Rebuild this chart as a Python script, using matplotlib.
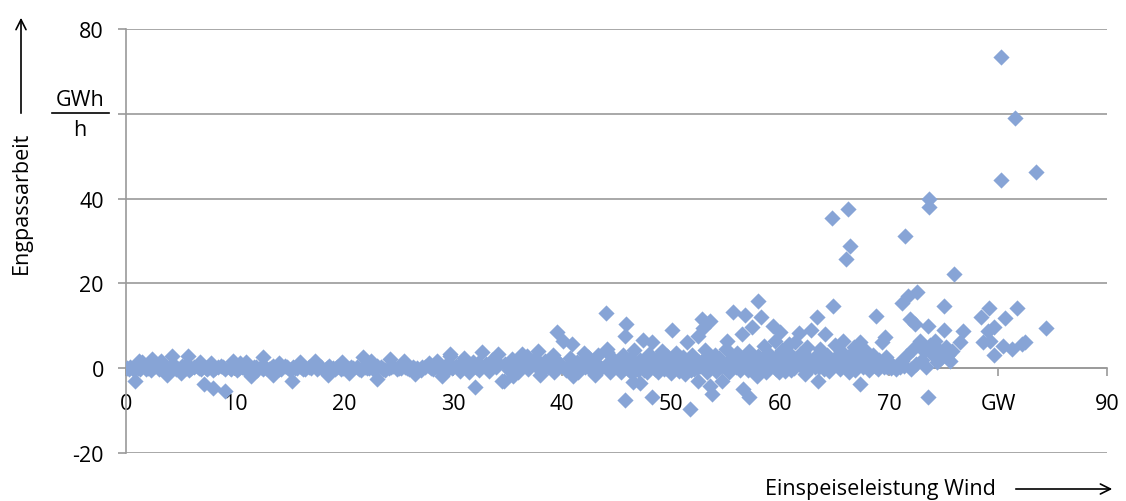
import matplotlib
matplotlib.use("Agg")
import matplotlib.pyplot as plt
from matplotlib.lines import Line2D

plt.rcParams['font.family'] = ['Open Sans', 'DejaVu Sans']

# Einspeiseleistung Wind (GW) vs. Engpassarbeit (GWh/h)
band_low = [
    (0.1, 0.0), (0.4, 0.3), (0.7, -0.4), (1.0, 0.5), (1.3, -0.2), (1.6, 0.8), (2.0, 0.1), (2.3, -0.5),
    (2.7, 0.6), (3.0, -0.1), (3.4, 0.4), (3.7, -0.6), (4.1, 0.2), (4.4, 0.7), (4.8, -0.3), (5.1, 0.5),
    (5.5, 0.0), (5.8, -0.4), (6.2, 0.3), (6.5, 0.6), (6.9, -0.2), (7.3, 0.1), (7.6, 0.4), (8.0, -0.5),
    (8.4, 0.2), (8.7, 0.6), (9.1, -0.3), (9.5, 0.0), (9.8, 0.5), (10.2, -0.4), (10.6, 0.3), (10.9, -0.1),
    (11.3, 0.6), (11.7, 0.2), (12.0, -0.5), (12.4, 0.4), (12.8, 0.0), (13.1, -0.3), (13.5, 0.5), (13.9, 0.1),
    (14.2, -0.2), (14.6, 0.6), (15.0, -0.4), (15.3, 0.3), (15.7, 0.0), (16.1, 0.4), (16.4, -0.3), (16.8, 0.2),
    (17.2, 0.7), (17.5, -0.1), (17.9, 0.3), (18.3, -0.4), (18.6, 0.5), (19.0, 0.0), (19.4, 0.2), (19.7, -0.3),
    (20.1, 0.6), (20.5, -0.2), (20.8, 0.1), (21.2, 0.4), (21.6, -0.5), (21.9, 0.3), (22.3, 0.0), (22.7, -0.2),
    (23.0, 0.5), (23.4, 0.2), (23.8, -0.4), (24.1, 0.1), (24.5, 0.6), (24.9, -0.3), (25.2, 0.0), (25.6, 0.4),
    (26.0, -0.2), (26.3, 0.3), (26.7, 0.1), (27.1, -0.5), (27.4, 0.2), (27.8, 0.5), (28.2, -0.1), (28.5, 0.3),
    (28.9, -0.4), (29.3, 0.6), (29.6, 0.0), (30.0, 0.4),
]
fill_low = [
    (0.3, -0.1), (1.1, 0.1), (1.8, -0.2), (2.5, 0.2), (3.2, 0.0), (3.9, 0.1), (4.6, -0.1), (5.3, 0.2),
    (6.0, 0.0), (6.7, 0.1), (7.4, -0.2), (8.2, 0.0), (8.9, 0.2), (9.6, -0.1), (10.4, 0.1), (11.1, 0.0),
    (11.9, 0.2), (12.6, -0.1), (13.3, 0.1), (14.0, -0.2), (14.8, 0.2), (15.5, 0.0), (16.2, -0.1), (17.0, 0.1),
    (17.7, 0.2), (18.4, 0.0), (19.2, -0.1), (19.9, 0.1), (20.6, 0.2), (21.4, -0.1), (22.1, 0.1), (22.9, 0.0),
    (23.6, -0.2), (24.3, 0.2), (25.0, 0.0), (25.8, 0.1), (26.5, -0.1), (27.2, 0.2), (28.0, 0.0), (28.7, 0.1),
    (29.4, -0.2), (29.9, 0.1),
]
spread_low = [
    (0.8, -3.1), (2.4, 2.1), (4.2, 2.8), (5.7, 2.8), (7.2, -3.8), (8.0, -4.7), (9.1, -5.4), (12.6, 2.6),
    (15.2, -3.1), (1.5, 1.5), (3.2, 1.6), (6.8, 1.4), (10.5, 1.2), (11.5, -1.8), (14.0, 1.3), (17.3, 1.8),
    (18.5, -1.5), (19.8, 1.4), (21.7, 2.6), (23.0, -2.6), (24.2, 2.1), (25.5, 1.6), (26.5, -1.4), (27.8, 1.2),
    (29.7, 3.3), (29.0, -1.8), (13.5, -1.5), (16.0, 1.5), (20.5, -1.2), (22.5, 1.7), (9.8, 1.6), (3.8, -1.5),
    (1.2, 1.8), (5.0, -1.2), (7.8, 1.3), (11.0, 1.5), (28.5, 1.7),
]
band_mid = [
    (30.3, 0.5), (30.6, -0.6), (30.9, 1.2), (31.2, 0.0), (31.5, -0.9), (31.8, 1.5), (32.1, 0.4), (32.4, -0.5),
    (32.7, 3.8), (33.0, 1.0), (33.3, -0.7), (33.6, 2.0), (33.9, 0.3), (34.1, 3.3), (34.5, -3.1), (34.8, 1.1),
    (35.1, -0.4), (35.4, 2.2), (35.7, 0.6), (36.0, -0.8), (36.3, 3.3), (36.6, 1.3), (36.9, -0.3), (37.2, 0.8),
    (37.5, 2.4), (37.8, 4.0), (38.1, -0.6), (38.4, 1.6), (38.7, 0.2), (39.0, 2.0), (39.3, -0.9), (39.5, 8.5),
    (39.8, 1.0), (40.1, 6.4), (40.4, -0.4), (40.7, 2.3), (40.9, 5.7), (41.2, 0.7), (41.5, -0.8), (41.8, 1.8),
    (42.1, 0.3), (42.4, 2.6), (42.7, -0.5), (43.0, 1.4), (43.3, 3.0), (43.6, 0.1), (44.0, 13.0), (44.1, 4.5),
    (44.1, 3.8), (44.4, -0.9), (44.7, 2.2), (45.0, 0.8), (32.0, -4.5), (29.7, 2.8), (34.7, -3.1), (31.0, 2.5),
    (35.5, -1.8), (38.0, -1.5), (41.0, -1.9), (43.0, -1.6), (36.8, 2.8), (39.2, 3.1), (42.0, 3.5),
    (30.5, 0.2), (31.4, 0.6), (32.3, 1.2), (33.2, 0.4), (34.0, 1.5), (35.0, 0.3), (35.9, 1.4), (36.8, 0.5),
    (37.7, 1.0), (38.6, 0.6), (39.6, 1.5), (40.5, 0.3), (41.4, 1.4), (42.3, 0.8), (43.2, 0.2), (44.2, 1.3),
]
band_high = [
    (45.2, 1.5), (45.4, -0.8), (45.6, 3.0), (45.8, 7.5), (45.8, -7.5), (45.9, 10.4), (46.0, 0.2), (46.2, 2.5),
    (46.4, -1.2), (46.5, -3.3), (46.6, 4.2), (46.8, 0.9), (47.0, -0.4), (47.2, -3.5), (47.2, 2.0), (47.4, 6.6),
    (47.6, 1.0), (47.8, -1.0), (48.0, 3.4), (48.3, 6.1), (48.3, -6.7), (48.4, 0.4), (48.6, 2.2), (48.8, -0.9),
    (49.0, 1.5), (49.2, 4.0), (49.4, -0.3), (49.6, 2.8), (49.8, 0.8), (50.0, -1.1), (50.1, 9.0), (50.3, 1.9),
    (50.5, 3.6), (50.7, -0.6), (50.9, 0.5), (51.1, 2.6), (51.3, -1.3), (51.5, 6.1), (51.7, -9.7), (51.7, 1.2),
    (51.9, 3.2), (52.1, -0.2), (52.3, 2.0), (52.5, 7.5), (52.5, -3.1), (52.7, 0.6), (52.8, 11.6), (52.9, 9.4),
    (53.1, 4.4), (53.3, -0.9), (53.5, 1.8), (53.6, 11.1), (53.6, -4.2), (53.8, -6.1), (54.0, 3.0), (54.2, 0.3),
    (54.4, 2.4), (54.7, -3.1), (54.8, 1.0), (55.0, 4.6), (55.1, 6.4), (55.3, -1.0), (55.5, 2.2), (55.7, 13.2),
    (55.9, 0.7), (56.1, 3.5), (56.3, -0.5), (56.5, 8.0), (56.6, -5.0), (56.8, 12.5), (57.0, 1.6), (57.2, -6.8),
    (57.2, 4.0), (57.4, 9.7), (57.6, 0.2), (57.9, -1.9), (58.0, 15.8), (58.0, 2.8), (58.3, 12.0), (58.5, 5.2),
    (58.7, -0.8), (58.9, 3.6), (59.1, 1.2), (59.4, 9.9), (59.5, 6.5), (59.7, 2.0), (59.9, -1.0), (60.0, 8.5),
    (60.2, 4.3), (60.4, 0.6), (60.6, 3.0), (60.8, 5.8), (61.0, -0.4), (61.2, 2.4), (61.4, 6.2), (61.7, 8.3),
    (61.9, 1.5), (62.1, 3.8), (62.3, -1.3), (62.5, 5.0), (62.8, 9.0), (63.0, 2.0), (63.2, 0.3), (63.4, 12.0),
    (63.5, -3.1), (63.7, 4.5), (63.9, 1.2), (64.1, 8.0), (64.3, 3.0), (64.5, -0.6), (64.8, 35.4), (64.9, 14.6),
    (65.0, 5.5), (65.2, 2.2), (65.4, 0.5), (65.6, 4.0), (65.8, 6.5), (66.1, 25.7), (66.2, 37.5), (66.4, 28.8),
    (66.0, 1.8), (66.3, -1.0), (66.6, 3.5), (66.8, 5.0), (67.0, 0.8), (67.3, 6.1), (67.3, -3.8), (67.5, 2.5),
    (67.8, 4.3), (68.0, 1.0), (68.2, -0.5), (68.5, 3.2), (68.8, 12.3), (68.9, 0.4), (69.1, 2.0), (69.4, 6.1),
    (69.6, 7.4), (69.8, 0.2), (70.0, 1.5),
]
fill_high = [
    (45.3, 0.4), (45.7, 1.1), (46.1, -0.2), (46.3, 1.4), (46.7, 0.0), (47.1, 1.6), (47.5, -0.5), (47.9, 0.9),
    (48.1, 1.8), (48.5, -0.2), (48.9, 0.6), (49.1, 2.5), (49.5, 0.1), (49.7, 1.4), (50.2, -0.4), (50.6, 1.2),
    (50.8, 2.4), (51.2, 0.2), (51.4, 1.6), (51.8, -0.5), (52.0, 1.0), (52.4, 0.0), (52.6, 1.5), (53.0, 0.9),
    (53.2, 2.6), (53.4, 0.0), (53.9, 1.3), (54.1, -0.6), (54.3, 1.7), (54.6, 0.5), (55.2, 1.0), (55.4, -0.2),
    (55.8, 1.9), (56.0, 0.3), (56.4, 1.2), (56.7, 2.3), (57.1, -0.4), (57.5, 1.5), (57.8, 0.5), (58.2, -0.3),
    (58.4, 1.4), (58.8, 2.1), (59.0, 0.0), (59.3, 1.6), (59.6, -0.2), (59.8, 3.0), (60.1, 0.9), (60.3, 2.0),
    (60.5, -0.6), (60.9, 1.3), (61.1, 2.8), (61.3, 0.1), (61.6, 1.0), (61.8, 3.3), (62.0, 0.4), (62.2, 1.8),
    (62.4, 0.0), (62.7, 2.2), (62.9, 0.6), (63.1, 1.5), (63.3, 2.8), (63.6, 0.4), (63.8, 2.0), (64.0, -0.2),
    (64.2, 1.4), (64.4, 2.6), (64.7, 0.5), (65.1, 1.0), (65.3, 3.0), (65.5, -0.3), (65.7, 1.6), (65.9, 2.9),
    (66.5, 0.6), (66.7, 2.0), (66.9, -0.4), (67.1, 1.5), (67.4, 3.4), (67.6, 0.3), (67.9, 2.0), (68.1, 0.0),
    (68.4, 1.2), (68.7, 0.6), (69.0, -0.2), (69.3, 1.0), (69.5, 0.4), (69.7, 2.6),
]
band_top = [
    (70.2, 0.0), (70.4, 0.6), (70.6, -0.3), (70.8, 1.0), (71.0, 0.2), (71.2, 1.6), (71.2, 15.3), (71.5, 31.1),
    (71.4, 0.5), (71.6, 2.8), (71.7, 17.0), (71.9, 11.6), (72.0, -0.2), (72.2, 4.5), (72.4, 10.4), (72.6, 17.9),
    (72.5, 1.0), (72.8, 6.5), (73.0, 2.0), (73.2, 4.0), (73.4, 0.4), (73.6, 9.9), (73.6, -6.8), (73.7, 39.9),
    (73.7, 38.0), (73.8, 5.5), (74.0, 3.0), (74.2, 6.5), (74.4, 1.5), (74.6, 4.2), (74.8, 2.5), (75.0, 14.6),
    (75.0, 9.0), (75.2, 5.0), (75.4, 3.0), (75.6, 1.8), (75.8, 4.0), (76.0, 22.2), (76.5, 6.1), (76.8, 8.7),
    (78.4, 12.0), (78.6, 6.1), (79.1, 8.7), (79.2, 14.2), (79.3, 6.4), (79.6, 9.7), (79.6, 3.1), (80.3, 73.3),
    (80.3, 44.3), (80.6, 11.8), (80.5, 5.2), (81.3, 4.5), (81.6, 59.0), (81.7, 14.2), (82.2, 5.7), (82.5, 6.1),
    (83.5, 46.2), (84.4, 9.4),
]

x_ticks = [0, 10, 20, 30, 40, 50, 60, 70, 80, 90]
x_labels = ["0", "10", "20", "30", "40", "50", "60", "70", "GW", "90"]
y_ticks = [-20, 0, 20, 40, 60, 80]
y_labels = ["-20", "0", "20", "40", "", "80"]

W, H = 1126, 502
fig = plt.figure(figsize=(W / 100, H / 100), dpi=100)
ax = fig.add_axes([126 / W, (H - 454) / H, (1107 - 126) / W, (454 - 30) / H])

pts = band_low + fill_low + spread_low + band_mid + band_high + fill_high + band_top
xs = [p[0] for p in pts]
ys = [p[1] for p in pts]
ax.scatter(xs, ys, marker="D", s=68, color="#87A4D6", linewidths=0, zorder=3)

ax.set_xlim(0, 90)
ax.set_ylim(-20, 80)
grey = "#9A9A9A"
fs = 15.5
ax.set_yticks(y_ticks)
ax.set_yticklabels(y_labels)
ax.set_xticks(x_ticks)
ax.set_xticklabels(x_labels)
ax.yaxis.grid(True, color=grey, linewidth=1.2, zorder=0)
ax.set_axisbelow(True)

for s in ["top", "right"]:
    ax.spines[s].set_visible(False)
ax.spines["bottom"].set_position(("data", 0))
ax.spines["bottom"].set_color(grey)
ax.spines["left"].set_color(grey)
ax.spines["bottom"].set_linewidth(1.2)
ax.spines["left"].set_linewidth(1.2)
ax.spines["bottom"].set_zorder(1)

ax.tick_params(axis="y", length=6, width=1.2, color=grey, pad=10, labelsize=fs)
ax.tick_params(axis="x", length=6, width=1.2, color=grey, pad=12, labelsize=fs, direction="out")

# Einheit statt Tick-Beschriftung bei 60
fig.text(80 / W, (H - 100) / H, "GWh", ha="center", va="center", fontsize=fs)
fig.text(80 / W, (H - 130) / H, "h", ha="center", va="center", fontsize=fs)
fig.add_artist(Line2D([52 / W, 109 / W], [(H - 114) / H] * 2, color="black", linewidth=1.2))

# Achsentitel mit Pfeilen
fig.text(21 / W, (H - 203) / H, "Engpassarbeit", rotation=90, ha="center", va="center", fontsize=fs)
fig.text(880 / W, (H - 490) / H, "Einspeiseleistung Wind", ha="center", va="center", fontsize=fs)
ax.annotate("", xy=(21, H - 16), xytext=(21, H - 117), xycoords="figure pixels",
            arrowprops=dict(arrowstyle="->", color="black", lw=1.2, mutation_scale=18))
ax.annotate("", xy=(1115, H - 490), xytext=(1013, H - 490), xycoords="figure pixels",
            arrowprops=dict(arrowstyle="->", color="black", lw=1.2, mutation_scale=18))

fig.savefig("out.png", dpi=100)
